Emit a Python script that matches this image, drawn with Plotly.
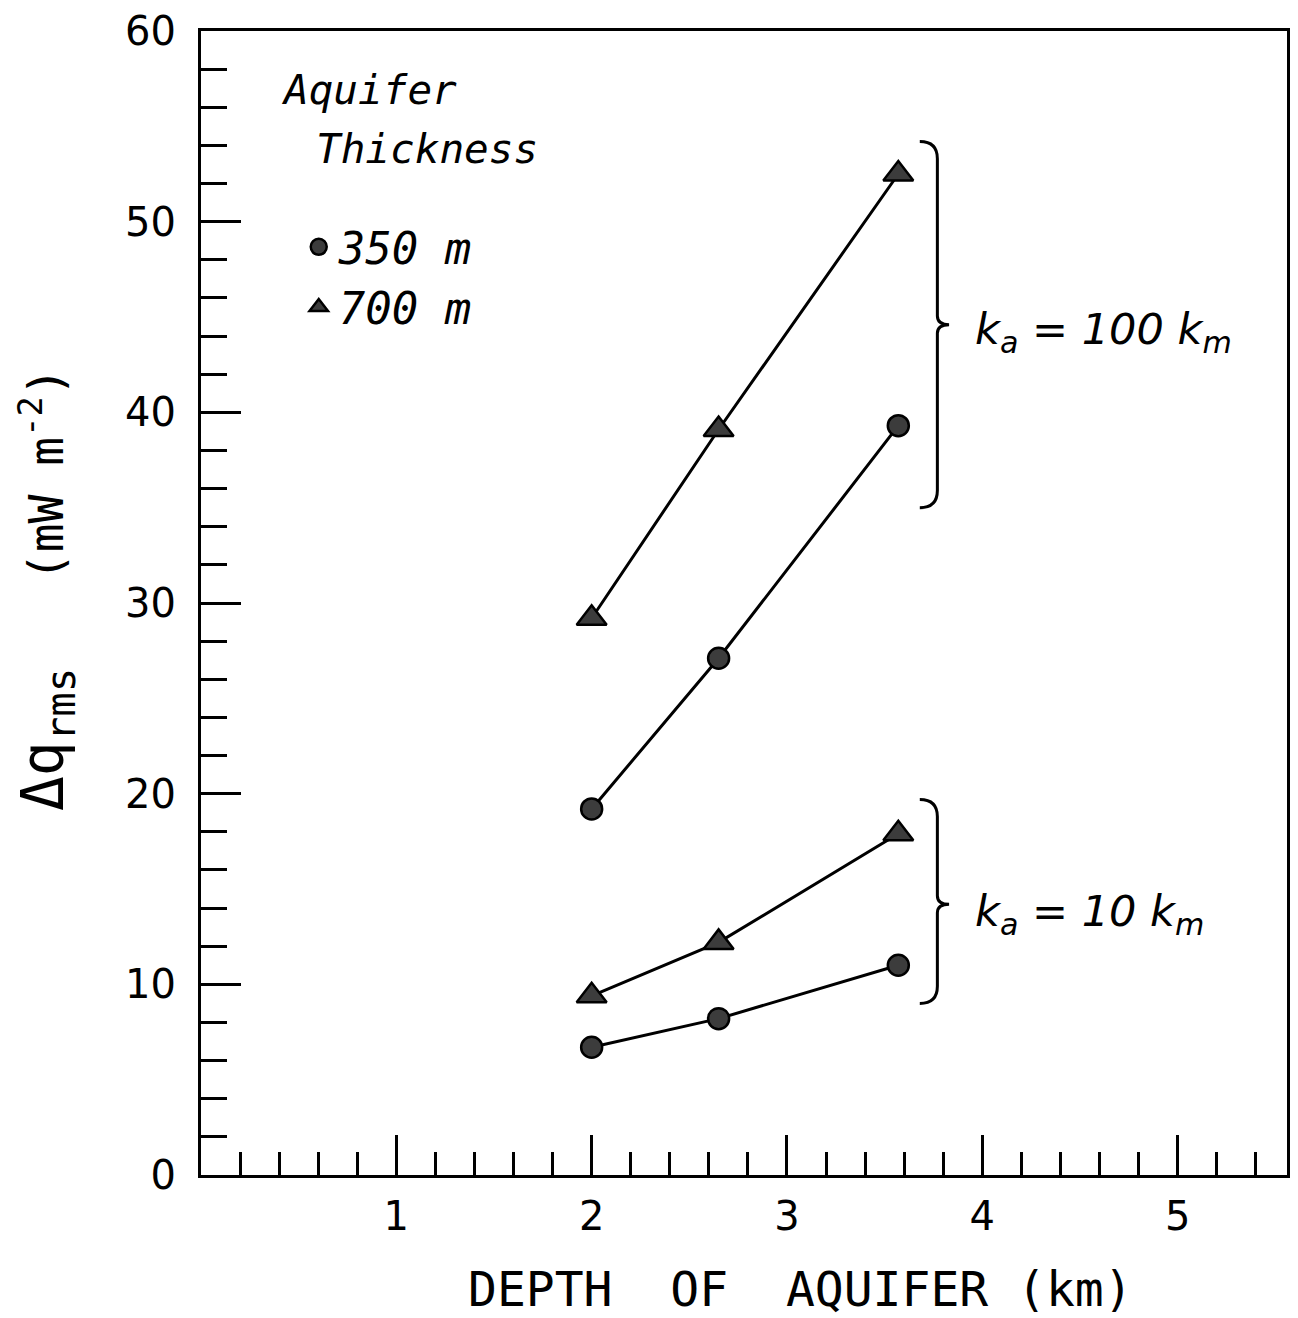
import plotly.graph_objects as go

depth_km = [2.0, 2.65, 3.57]
q_700_k100 = [29.2, 39.1, 52.5]
q_350_k100 = [19.2, 27.1, 39.3]
q_700_k10 = [9.4, 12.2, 17.9]
q_350_k10 = [6.7, 8.2, 11.0]

x_ticks = [1, 2, 3, 4, 5]
y_ticks = [0, 10, 20, 30, 40, 50, 60]

FONT = "DejaVu Sans"
MONO = "DejaVu Sans Mono"
MFILL = "#3c3c3c"
NB = "\u00a0"

fig = go.Figure()

series = [
    (q_700_k100, "triangle-up", 26),
    (q_350_k100, "circle", 21),
    (q_700_k10, "triangle-up", 26),
    (q_350_k10, "circle", 21),
]
for ys, sym, sz in series:
    fig.add_trace(go.Scatter(
        x=depth_km, y=ys, mode="lines+markers", showlegend=False,
        line=dict(color="black", width=3),
        marker=dict(symbol=sym, size=sz, color=MFILL, line=dict(color="black", width=2.5)),
    ))

# legend-only entries (markers only)
fig.add_trace(go.Scatter(x=[None], y=[None], mode="markers", name="350 m",
                         marker=dict(symbol="circle", size=21, color=MFILL, line=dict(color="black", width=2.5))))
fig.add_trace(go.Scatter(x=[None], y=[None], mode="markers", name="700 m",
                         marker=dict(symbol="triangle-up", size=26, color=MFILL, line=dict(color="black", width=2.5))))

# braces
def brace(x0, xm, xt, ytop, ymid, ybot):
    h = 0.45
    return (f"M {x0},{ytop} Q {xm},{ytop} {xm},{ytop-h*2} "
            f"L {xm},{ymid+h} Q {xm},{ymid} {xt},{ymid} "
            f"Q {xm},{ymid} {xm},{ymid-h} "
            f"L {xm},{ybot+h*2} Q {xm},{ybot} {x0},{ybot}")

fig.add_shape(type="path", path=brace(3.68, 3.77, 3.83, 54.2, 44.6, 35.0),
              line=dict(color="black", width=3))
fig.add_shape(type="path", path=brace(3.68, 3.77, 3.83, 19.7, 14.2, 9.0),
              line=dict(color="black", width=3))

ann_font = dict(family=MONO, size=41, color="black", style="italic")
fig.add_annotation(x=0.40, y=56.9, xref="x", yref="y", text="Aquifer", showarrow=False,
                   xanchor="left", yanchor="middle", font=ann_font)
fig.add_annotation(x=0.58, y=53.8, xref="x", yref="y", text="Thickness", showarrow=False,
                   xanchor="left", yanchor="middle", font=ann_font)
fig.add_annotation(x=3.95, y=44.2, xref="x", yref="y", text="k<sub>a</sub> = 100 k<sub>m</sub>",
                   showarrow=False, xanchor="left", yanchor="middle",
                   font=dict(family=FONT, size=43, color="black", style="italic"))
fig.add_annotation(x=3.95, y=13.7, xref="x", yref="y", text="k<sub>a</sub> = 10 k<sub>m</sub>",
                   showarrow=False, xanchor="left", yanchor="middle",
                   font=dict(family=FONT, size=43, color="black", style="italic"))

# axis titles
fig.add_annotation(x=3.07, y=-0.1, xref="x", yref="paper",
                   text=f"DEPTH{NB}{NB}OF{NB}{NB}AQUIFER{NB}(km)",
                   showarrow=False, xanchor="center", yanchor="middle",
                   font=dict(family=MONO, size=48, color="black"))
fig.add_annotation(x=-0.142, y=0.512, xref="paper", yref="paper",
                   text=(f"<span style=\"font-size:58px\">Δq<sub>rms</sub></span>"
                         f"{NB}{NB}{NB}(mW{NB}m<sup>-2</sup>)"),
                   textangle=-90,
                   showarrow=False, xanchor="center", yanchor="middle",
                   font=dict(family=MONO, size=48, color="black"))

fig.update_xaxes(range=[0, 5.56], tickvals=x_ticks, ticktext=[str(v) for v in x_ticks],
                 ticks="inside", ticklen=40, tickwidth=3, tickcolor="black",
                 minor=dict(dtick=0.2, tick0=0, ticks="inside", ticklen=23, tickwidth=3, tickcolor="black"),
                 showline=True, linewidth=3, linecolor="black", mirror=True,
                 showgrid=False, zeroline=False, ticklabelstandoff=4,
                 tickfont=dict(family=FONT, size=40, color="black"))
fig.update_yaxes(range=[0, 60], tickvals=y_ticks, ticktext=[str(v) for v in y_ticks],
                 ticks="inside", ticklen=40, tickwidth=3, tickcolor="black",
                 minor=dict(dtick=2, tick0=0, ticks="inside", ticklen=26, tickwidth=3, tickcolor="black"),
                 showline=True, linewidth=3, linecolor="black", mirror=True,
                 showgrid=False, zeroline=False, ticklabelstandoff=14,
                 tickfont=dict(family=FONT, size=40, color="black"))

fig.update_layout(
    width=1298, height=1318,
    margin=dict(l=201, r=8, t=25, b=143),
    paper_bgcolor="white", plot_bgcolor="white",
    showlegend=True,
    legend=dict(x=0.09, y=0.842, xanchor="left", yanchor="top",
                bgcolor="rgba(0,0,0,0)", borderwidth=0,
                font=dict(family=MONO, size=44, color="black", style="italic"),
                itemwidth=30, tracegroupgap=0),
)

fig.write_html("out.html")
